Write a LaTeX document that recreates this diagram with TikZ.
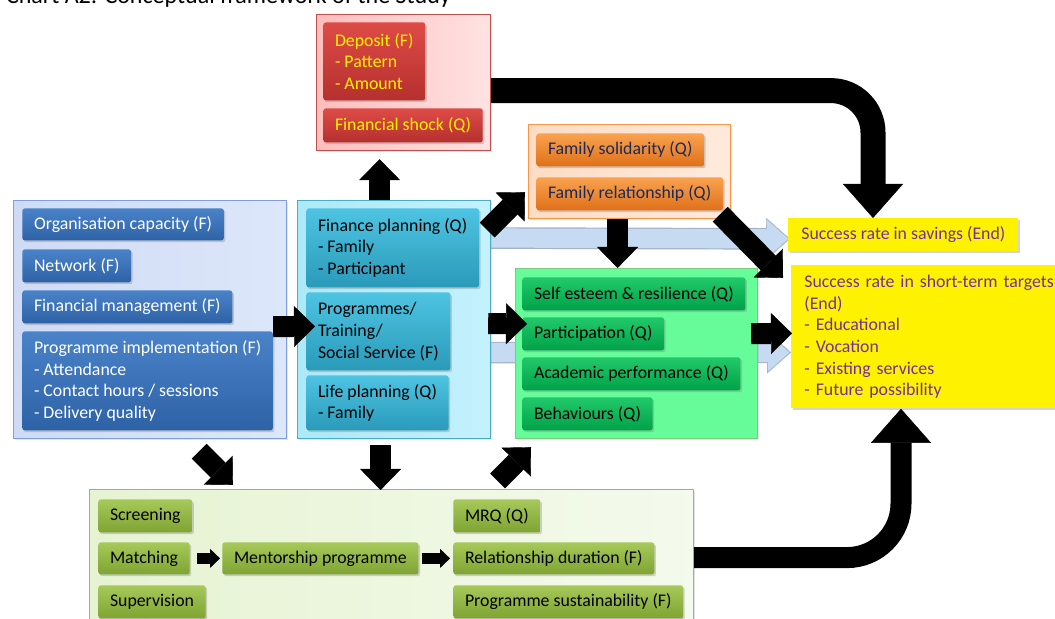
\documentclass[tikz,border=0pt]{standalone}
\usepackage{fontspec}
\setmainfont{Carlito}
\usetikzlibrary{arrows.meta,calc,shadows,backgrounds}

\definecolor{redtop}{HTML}{DE4B47}
\definecolor{redbot}{HTML}{B5302E}
\definecolor{redline}{HTML}{C0504D}
\definecolor{redpaleL}{HTML}{FFBDBD}
\definecolor{redpaleR}{HTML}{FFE2E2}
\definecolor{orgtop}{HTML}{F9A24F}
\definecolor{orgbot}{HTML}{E0701A}
\definecolor{orgline}{HTML}{F79646}
\definecolor{orgpaleL}{HTML}{FCDCC4}
\definecolor{orgpaleR}{HTML}{FEEADC}
\definecolor{orgtext}{HTML}{1B2A5A}
\definecolor{blutop}{HTML}{4A83C9}
\definecolor{blubot}{HTML}{2E62A6}
\definecolor{bluline}{HTML}{7F9FDC}
\definecolor{blupaleL}{HTML}{CFDBF5}
\definecolor{blupaleR}{HTML}{DDE7FA}
\definecolor{cyatop}{HTML}{4EC4E2}
\definecolor{cyabot}{HTML}{2A9AB9}
\definecolor{cyaline}{HTML}{4BACC6}
\definecolor{cyapaleL}{HTML}{ACE9F9}
\definecolor{cyapaleR}{HTML}{C4F1FC}
\definecolor{grntop}{HTML}{22C96A}
\definecolor{grnbot}{HTML}{00A249}
\definecolor{grnline}{HTML}{7DC97D}
\definecolor{grnpale}{HTML}{66FC99}
\definecolor{olvtop}{HTML}{A6C95A}
\definecolor{olvbot}{HTML}{7FA432}
\definecolor{olvline}{HTML}{9BBB59}
\definecolor{olvpaleL}{HTML}{E6F3D2}
\definecolor{olvpaleR}{HTML}{F4FAEC}
\definecolor{endtext}{HTML}{7030A0}
\definecolor{palefill}{HTML}{C6DAF2}
\definecolor{paleline}{HTML}{A2B3C9}

\tikzset{
  grp/.style={draw, line width=0.6pt, anchor=north west, inner sep=0pt,
    drop shadow={opacity=0.2, shadow xshift=0.8pt, shadow yshift=-0.8pt}},
  itembox/.style={anchor=north west, rounded corners=1.2pt, align=left,
    inner xsep=5.8pt, inner ysep=0pt, font=\fontsize{8.9}{10.85}\selectfont,
    drop shadow={opacity=0.35, shadow xshift=0.8pt, shadow yshift=-0.9pt}},
  redbox/.style={itembox, top color=redtop, bottom color=redbot, text=yellow},
  orgbox/.style={itembox, top color=orgtop, bottom color=orgbot, text=orgtext},
  blubox/.style={itembox, top color=blutop, bottom color=blubot, text=white},
  cyabox/.style={itembox, top color=cyatop, bottom color=cyabot, text=black},
  grnbox/.style={itembox, top color=grntop, bottom color=grnbot, text=black},
  olvbox/.style={itembox, top color=olvtop, bottom color=olvbot, text=black},
  endbox/.style={itembox, fill=yellow, inner xsep=6.5pt, text=endtext, rounded corners=0pt},
  fatarrow/.style={line width=12.5pt, -{Triangle[width=30pt,length=17pt,line width=0.2pt]}},
  midarrow/.style={line width=10.5pt, -{Triangle[width=20.5pt,length=10.5pt,line width=0.2pt]}},
  tinyarrow/.style={line width=5.5pt, -{Triangle[width=9.5pt,length=5pt,line width=0.2pt]}},
  paleedge/.style={line width=10.8pt, draw=paleline, -{Triangle[width=21pt,length=12pt,line width=0.2pt]}},
  palecore/.style={line width=9.6pt, draw=palefill, shorten >=0.8pt, -{Triangle[width=19pt,length=10.8pt,line width=0.2pt]}}
}

\begin{document}
\begin{tikzpicture}[x=0.5pt,y=-0.5pt]
 \useasboundingbox (0,0) rectangle (1055,619);
 \clip (0,0) rectangle (1055,619);
 \node[anchor=base west, font=\fontsize{12}{14}\selectfont] (title) at (-1,4) {Chart A2: Conceptual framework of the Study};

 % groups
 \node[grp, draw=redline, left color=redpaleL, right color=redpaleR, minimum width=87pt, minimum height=68pt] (redgrp) at (316,14) {};
 \node[grp, draw=orgline, left color=orgpaleL, right color=orgpaleR, minimum width=101pt, minimum height=47pt] (orangegrp) at (528,124) {};
 \node[grp, draw=bluline, left color=blupaleL, right color=blupaleR, minimum width=136.5pt, minimum height=119pt] (bluegrp) at (13,200) {};
 \node[grp, draw=cyaline, left color=cyapaleL, right color=cyapaleR, minimum width=96.5pt, minimum height=119pt] (cyangrp) at (297,200) {};
 \node[grp, draw=grnline, fill=grnpale, minimum width=121pt, minimum height=85pt] (greengrp) at (515,268) {};
 \node[grp, draw=olvline, left color=olvpaleL, right color=olvpaleR, minimum width=302pt, minimum height=68pt] (bottomgrp) at (89,489) {};

 % items
 \node[redbox, minimum height=39pt] (deposit) at (323,22) {Deposit (F)\\- Pattern\\- Amount};
 \node[redbox, minimum height=17pt] (shock) at (323,108) {Financial shock (Q)};
 \node[orgbox, minimum height=16.5pt] (solidarity) at (536,133) {Family solidarity (Q)};
 \node[orgbox, minimum height=16.5pt] (famrel) at (536,177) {Family relationship (Q)};
 \node[blubox, minimum height=16pt] (orgcap) at (22,208) {Organisation capacity (F)};
 \node[blubox, minimum height=16.5pt] (network) at (22,249) {Network (F)};
 \node[blubox, minimum height=16.5pt] (finmgmt) at (22,290) {Financial management (F)};
 \node[blubox, minimum height=49.5pt] (progimpl) at (22,331) {Programme implementation (F)\\- Attendance\\- Contact hours / sessions\\- Delivery quality};
 \node[cyabox, minimum height=39.5pt] (finplan) at (306,208) {Finance planning (Q)\\- Family\\- Participant};
 \node[cyabox, minimum height=39pt] (programmes) at (306,292) {Programmes/\\Training/\\Social Service (F)};
 \node[cyabox, minimum height=27.5pt] (lifeplan) at (306,375) {Life planning (Q)\\- Family};
 \node[grnbox, minimum height=16.5pt] (selfesteem) at (522,277) {Self esteem \& resilience (Q)};
 \node[grnbox, minimum height=16.5pt] (participation) at (522,317) {Participation (Q)};
 \node[grnbox, minimum height=16.5pt] (academic) at (522,357) {Academic performance (Q)};
 \node[grnbox, minimum height=16.5pt] (behaviours) at (522,397) {Behaviours (Q)};
 \node[endbox, minimum height=16.5pt] (savings) at (788,218) {Success rate in savings (End)};
 \node[endbox, text width=130pt, minimum height=71.5pt] (shortterm) at (791,265) {Success rate in short-term targets\\(End)\\- Educational\\- Vocation\\- Existing services\\- Future possibility};
 \node[olvbox, minimum height=16.5pt] (screening) at (98,499) {Screening};
 \node[olvbox, minimum height=16pt] (matching) at (98,542) {Matching};
 \node[olvbox, minimum height=16.5pt] (supervision) at (98,585) {Supervision};
 \node[olvbox, minimum height=16pt] (mentorship) at (222,542) {Mentorship programme};
 \node[olvbox, minimum height=16.5pt] (mrq) at (453,499) {MRQ (Q)};
 \node[olvbox, minimum height=16pt] (reldur) at (453,542) {Relationship duration (F)};
 \node[olvbox, minimum height=16.5pt] (progsust) at (453,585) {Programme sustainability (F)};

 % pale arrows behind the groups
 \begin{scope}[on background layer]
  \draw[paleedge] ($(cyangrp.north east)+(-10,38)$) -- ($(savings.west)+(2,4)$);
  \draw[palecore] ($(cyangrp.north east)+(-10,38)$) -- ($(savings.west)+(2,4)$);
  \draw[paleedge] ($(cyangrp.east)+(-10,33)$) -- ($(shortterm.west)+(0,15.5)$);
  \draw[palecore] ($(cyangrp.east)+(-10,33)$) -- ($(shortterm.west)+(0,15.5)$);
 \end{scope}

 % black arrows
 \draw[fatarrow, rounded corners=21pt] ($(redgrp.east)+(0,8)$) -| ($(savings.north west)+(85,0)$);
 \draw[fatarrow, line width=10.5pt, rounded corners=27pt] (bottomgrp.east) -| ($(shortterm.south west)+(110,0)$);
 \draw[midarrow] ($(cyangrp.north)+(-14.5,0)$) -- ($(redgrp.south)+(-24,8)$);
 \draw[midarrow] ($(cyangrp.north east)+(-4,30)$) -- ($(orangegrp.south west)+(-3,-27)$);
 \draw[midarrow] ($(orangegrp.south)+(-12,0)$) -- ($(greengrp.north)+(-19,0)$);
 \draw[midarrow] ($(orangegrp.south east)+(-11,-5)$) -- ($(shortterm.north west)+(-8,13)$);
 \draw[midarrow] ($(bluegrp.east)+(-14,7)$) -- ($(programmes.west)+(9,-5)$);
 \draw[midarrow] ($(cyangrp.east)+(-3,4)$) -- ($(participation.west)+(5,-10)$);
 \draw[midarrow] ($(greengrp.east)+(-7,-20)$) -- ($(shortterm.west)+(1,-3.5)$);
 \draw[midarrow] ($(bluegrp.south east)+(-88,12)$) -- ($(bottomgrp.north west)+(144,-4)$);
 \draw[midarrow] ($(cyangrp.south)+(-13.5,6)$) -- ($(bottomgrp.north)+(-11,1)$);
 \draw[midarrow] ($(bottomgrp.north)+(106,-8)$) -- ($(greengrp.south west)+(16,8)$);
 \draw[tinyarrow] ($(matching.east)+(7,0)$) -- ($(mentorship.west)+(-2,0)$);
 \draw[tinyarrow] ($(mentorship.east)+(3,0)$) -- ($(reldur.west)+(-3,0)$);
\end{tikzpicture}
\end{document}
